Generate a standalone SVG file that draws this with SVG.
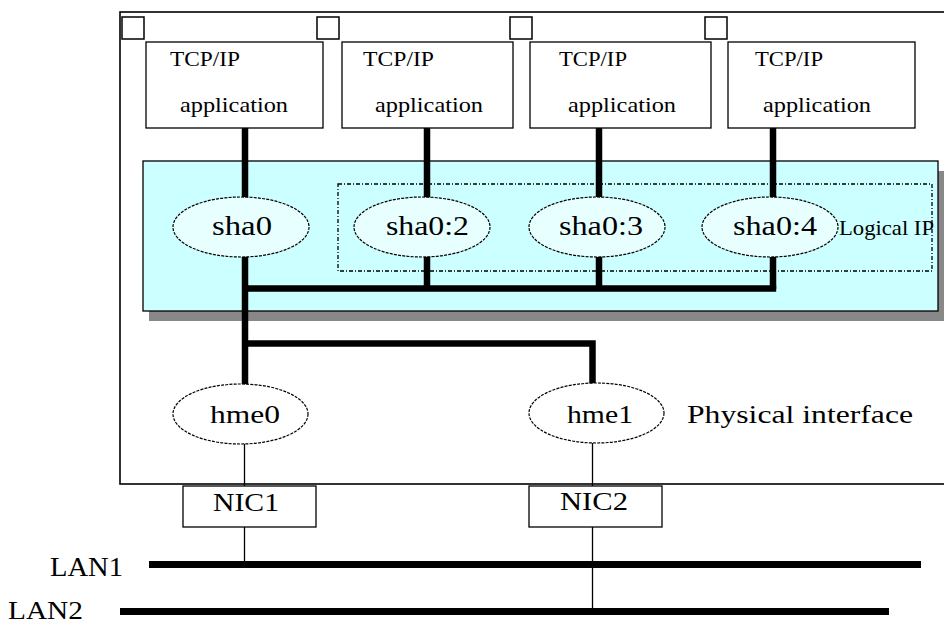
<svg xmlns="http://www.w3.org/2000/svg" width="944" height="624" viewBox="0 0 944 624">
<style>
text{font-family:"Liberation Serif","DejaVu Serif",serif;fill:#000}
.box{fill:#fff;stroke:#000;stroke-width:1.3}
.sq{fill:#fff;stroke:#000;stroke-width:1.5}
.app{font-size:21px}
.lip{fill:#e8ffff;stroke:#000;stroke-width:1.2;stroke-dasharray:3 1.2}
.pip{fill:#fff;stroke:#000;stroke-width:1.2;stroke-dasharray:3 1.2}
.ell{font-size:27px}
.thick{stroke:#000;stroke-width:6.5;fill:none}
.thin{stroke:#000;stroke-width:1.3;fill:none}
.lan{stroke:#000;stroke-width:7;fill:none}
</style>
<rect width="944" height="624" fill="#fff"/>
<g id="host">
<rect x="120" y="12" width="830" height="472" fill="#fff" stroke="#000" stroke-width="1.6"/>
</g>
<g id="apps">
<g id="app1">
<rect class="box" x="146" y="42" width="177" height="86"/>
<text class="app" x="170" y="66" textLength="70" lengthAdjust="spacingAndGlyphs">TCP/IP</text>
<text class="app" x="180" y="112" textLength="108" lengthAdjust="spacingAndGlyphs">application</text>
</g>
<g id="app2">
<rect class="box" x="342" y="42" width="171" height="86"/>
<text class="app" x="363" y="66" textLength="71" lengthAdjust="spacingAndGlyphs">TCP/IP</text>
<text class="app" x="375" y="112" textLength="108" lengthAdjust="spacingAndGlyphs">application</text>
</g>
<g id="app3">
<rect class="box" x="530" y="42" width="181" height="86"/>
<text class="app" x="559" y="66" textLength="68" lengthAdjust="spacingAndGlyphs">TCP/IP</text>
<text class="app" x="568" y="112" textLength="108" lengthAdjust="spacingAndGlyphs">application</text>
</g>
<g id="app4">
<rect class="box" x="728" y="42" width="187" height="86"/>
<text class="app" x="755" y="66" textLength="68" lengthAdjust="spacingAndGlyphs">TCP/IP</text>
<text class="app" x="763" y="112" textLength="108" lengthAdjust="spacingAndGlyphs">application</text>
</g>
<rect class="sq" x="122" y="17" width="22" height="22"/>
<rect class="sq" x="317" y="17" width="22" height="22"/>
<rect class="sq" x="510" y="17" width="22" height="22"/>
<rect class="sq" x="705" y="17" width="22" height="22"/>
</g>
<g id="panel">
<rect x="149" y="171" width="795" height="150" fill="#888"/>
<rect x="143" y="161" width="795" height="150" fill="#ccffff" stroke="#000" stroke-width="1.3"/>
<rect x="338" y="184" width="594" height="87" fill="none" stroke="#000" stroke-width="1.3" stroke-dasharray="4 2 1 2"/>
<text x="839" y="235" font-size="21" textLength="95" lengthAdjust="spacingAndGlyphs">Logical IP</text>
</g>
<g id="connectors">
<line class="thick" x1="245" y1="128" x2="245" y2="198"/>
<line class="thick" x1="427" y1="128" x2="427" y2="198"/>
<line class="thick" x1="599" y1="128" x2="599" y2="198"/>
<line class="thick" x1="773" y1="128" x2="773" y2="198"/>
<line class="thick" x1="245" y1="256" x2="245" y2="386"/>
<line class="thick" x1="427" y1="256" x2="427" y2="289"/>
<line class="thick" x1="599" y1="256" x2="599" y2="289"/>
<line class="thick" x1="773" y1="256" x2="773" y2="289"/>
<polyline class="thick" points="242,288.5 776.2,288.5"/>
<polyline class="thick" points="245,343.5 592.5,343.5 592.5,386"/>
<line class="thin" x1="244.5" y1="443" x2="244.5" y2="564"/>
<line class="thin" x1="592.5" y1="443" x2="592.5" y2="611"/>
<line class="lan" x1="149" y1="564.5" x2="921" y2="564.5"/>
<line class="lan" x1="120" y1="611.5" x2="889" y2="611.5"/>
</g>
<g id="sha0">
<ellipse class="lip" cx="241" cy="227" rx="68" ry="30"/>
<text class="ell" x="212" y="235" textLength="60" lengthAdjust="spacingAndGlyphs">sha0</text>
</g>
<g id="sha0-2">
<ellipse class="lip" cx="422" cy="227" rx="68" ry="30"/>
<text class="ell" x="386" y="235" textLength="83" lengthAdjust="spacingAndGlyphs">sha0:2</text>
</g>
<g id="sha0-3">
<ellipse class="lip" cx="597" cy="227" rx="68" ry="30"/>
<text class="ell" x="559" y="235" textLength="84" lengthAdjust="spacingAndGlyphs">sha0:3</text>
</g>
<g id="sha0-4">
<ellipse class="lip" cx="770" cy="227" rx="68" ry="30"/>
<text class="ell" x="733" y="235" textLength="84" lengthAdjust="spacingAndGlyphs">sha0:4</text>
</g>
<g id="hme0">
<ellipse class="pip" cx="240.5" cy="414" rx="67.5" ry="30"/>
<text x="210" y="423" font-size="26" textLength="70" lengthAdjust="spacingAndGlyphs">hme0</text>
</g>
<g id="hme1">
<ellipse class="pip" cx="596.5" cy="413" rx="67.5" ry="30"/>
<text x="567" y="423" font-size="26" textLength="66" lengthAdjust="spacingAndGlyphs">hme1</text>
</g>
<text x="687" y="423" font-size="26" textLength="226" lengthAdjust="spacingAndGlyphs">Physical interface</text>
<g id="nic1">
<rect class="box" x="183" y="486" width="133" height="41"/>
<text x="213" y="511" font-size="25" textLength="66" lengthAdjust="spacingAndGlyphs">NIC1</text>
</g>
<g id="nic2">
<rect class="box" x="529" y="486" width="133" height="41"/>
<text x="560" y="510" font-size="25" textLength="68" lengthAdjust="spacingAndGlyphs">NIC2</text>
</g>
<g id="lan1">
<text x="50" y="576" font-size="27" textLength="73" lengthAdjust="spacingAndGlyphs">LAN1</text>
</g>
<g id="lan2">
<text x="8" y="619" font-size="25" textLength="75" lengthAdjust="spacingAndGlyphs">LAN2</text>
</g>
</svg>
